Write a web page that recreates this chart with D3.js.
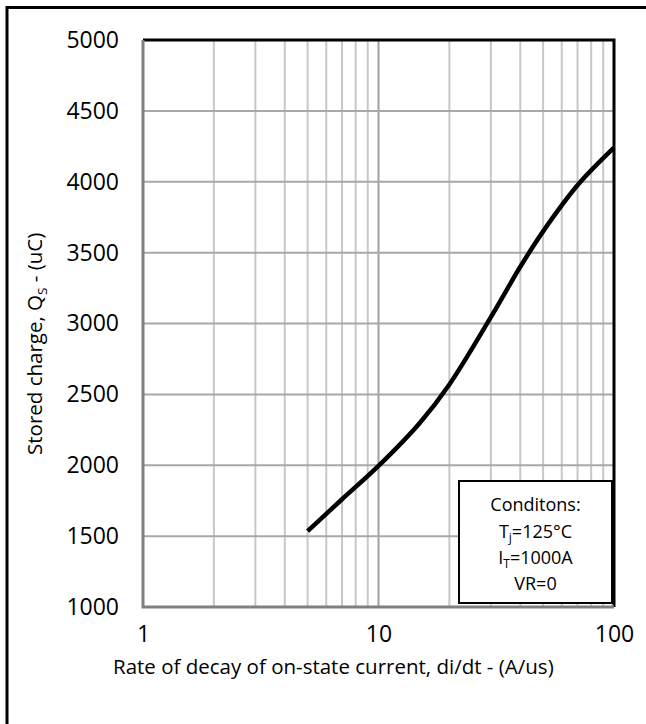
<!DOCTYPE html>
<html>
<head>
<meta charset="utf-8">
<script src="https://cdn.jsdelivr.net/npm/d3@7"></script>
<style>
  html, body { margin: 0; padding: 0; background: #fff; }
  svg { display: block; font-family: "Open Sans", sans-serif; }
</style>
</head>
<body>
<script>
// Stored charge vs. rate of decay of on-state current
const diDt = [5, 7, 10, 15, 20, 30, 40, 50, 70, 100];
const storedCharge = [1535, 1760, 1995, 2300, 2570, 3045, 3400, 3650, 3975, 4240];
const xTicks = [1, 10, 100];
const yTicks = [1000, 1500, 2000, 2500, 3000, 3500, 4000, 4500, 5000];
const conditionLines = ["Conditons:", "Tj=125°C", "IT=1000A", "VR=0"];

const W = 646, H = 724;
const plot = { left: 143, right: 614, top: 40, bottom: 607 };
const FONT = "'Open Sans', sans-serif";

const svg = d3.select("body").append("svg")
  .attr("width", W).attr("height", H);

// outer frame (only the top and left edges are inside the page)
svg.append("path")
  .attr("d", `M7,${H + 5}V7.5H${W + 5}`)
  .attr("fill", "none").attr("stroke", "#000").attr("stroke-width", 3);

const x = d3.scaleLog().domain([1, 100]).range([plot.left, plot.right]);
const y = d3.scaleLinear().domain([1000, 5000]).range([plot.bottom, plot.top]);

// vertical grid: minor decades
const minor = [];
for (const dec of [1, 10]) for (let k = 2; k <= 9; k++) minor.push(k * dec);
svg.append("g").selectAll("line").data(minor).join("line")
  .attr("x1", d => x(d)).attr("x2", d => x(d))
  .attr("y1", plot.top).attr("y2", plot.bottom)
  .attr("stroke", "#c8c8c8").attr("stroke-width", 2);
svg.append("g").selectAll("line").data([10]).join("line")
  .attr("x1", d => x(d)).attr("x2", d => x(d))
  .attr("y1", plot.top).attr("y2", plot.bottom)
  .attr("stroke", "#a0a0a0").attr("stroke-width", 2);

// horizontal grid
svg.append("g").selectAll("line").data(yTicks.slice(1, -1)).join("line")
  .attr("x1", plot.left).attr("x2", plot.right)
  .attr("y1", d => y(d)).attr("y2", d => y(d))
  .attr("stroke", "#a8a8a8").attr("stroke-width", 2);

// top and right plot border
svg.append("path")
  .attr("d", `M${plot.left},${plot.top}H${plot.right}V${plot.bottom}`)
  .attr("fill", "none").attr("stroke", "#000").attr("stroke-width", 3);

// left and bottom axis lines
svg.append("path")
  .attr("d", `M${plot.left},${plot.top}V${plot.bottom}H${plot.right}`)
  .attr("fill", "none").attr("stroke", "#7f7f7f").attr("stroke-width", 3);

// y axis labels
const yAxis = d3.axisLeft(y).tickValues(yTicks).tickSize(0).tickPadding(24)
  .tickFormat(d3.format("d"));
const gy = svg.append("g").attr("transform", `translate(${plot.left},0)`).call(yAxis);
gy.select(".domain").remove();
gy.selectAll("text").attr("font-size", 23).attr("fill", "#000")
  .attr("font-family", FONT);

// x axis labels
const xAxis = d3.axisBottom(x).tickValues(xTicks).tickSize(0).tickPadding(19)
  .tickFormat(d3.format("d"));
const gx = svg.append("g").attr("transform", `translate(0,${plot.bottom})`).call(xAxis);
gx.select(".domain").remove();
gx.selectAll("text").attr("font-size", 23).attr("fill", "#000")
  .attr("font-family", FONT);

// axis titles
svg.append("text")
  .attr("x", 113).attr("y", 674)
  .attr("text-anchor", "start").attr("font-size", 20.5)
  .text("Rate of decay of on-state current, di/dt - (A/us)");

const yt = svg.append("text")
  .attr("transform", `translate(42,455) rotate(-90)`)
  .attr("text-anchor", "start").attr("font-size", 20.5);
yt.append("tspan").text("Stored charge, Q");
yt.append("tspan").attr("font-size", 13.5).attr("dy", 5).text("S");
yt.append("tspan").attr("dy", -5).text(" - (uC)");

// curve
const line = d3.line().x((d, i) => x(diDt[i])).y(d => y(d)).curve(d3.curveCatmullRom.alpha(0.5));
svg.append("path").datum(storedCharge)
  .attr("d", line).attr("fill", "none")
  .attr("stroke", "#000").attr("stroke-width", 4.5)
  .attr("stroke-linecap", "butt");

// conditions box
const box = { x: 459, y: 481, w: 153, h: 122 };
svg.append("rect")
  .attr("x", box.x).attr("y", box.y).attr("width", box.w).attr("height", box.h)
  .attr("fill", "#fff").attr("stroke", "#000").attr("stroke-width", 2);

const cx = box.x + box.w / 2;
const lineY = [511, 538, 564, 590];
conditionLines.forEach((s, i) => {
  const t = svg.append("text").attr("x", cx).attr("y", lineY[i])
    .attr("text-anchor", "middle").attr("font-size", 18);
  if (i === 1) {
    t.append("tspan").text("T");
    t.append("tspan").attr("font-size", 12).attr("dy", 4).text("j");
    t.append("tspan").attr("dy", -4).text("=125°C");
  } else if (i === 2) {
    t.append("tspan").text("I");
    t.append("tspan").attr("font-size", 12).attr("dy", 4).text("T");
    t.append("tspan").attr("dy", -4).text("=1000A");
  } else {
    t.text(s);
  }
});
</script>
</body>
</html>
